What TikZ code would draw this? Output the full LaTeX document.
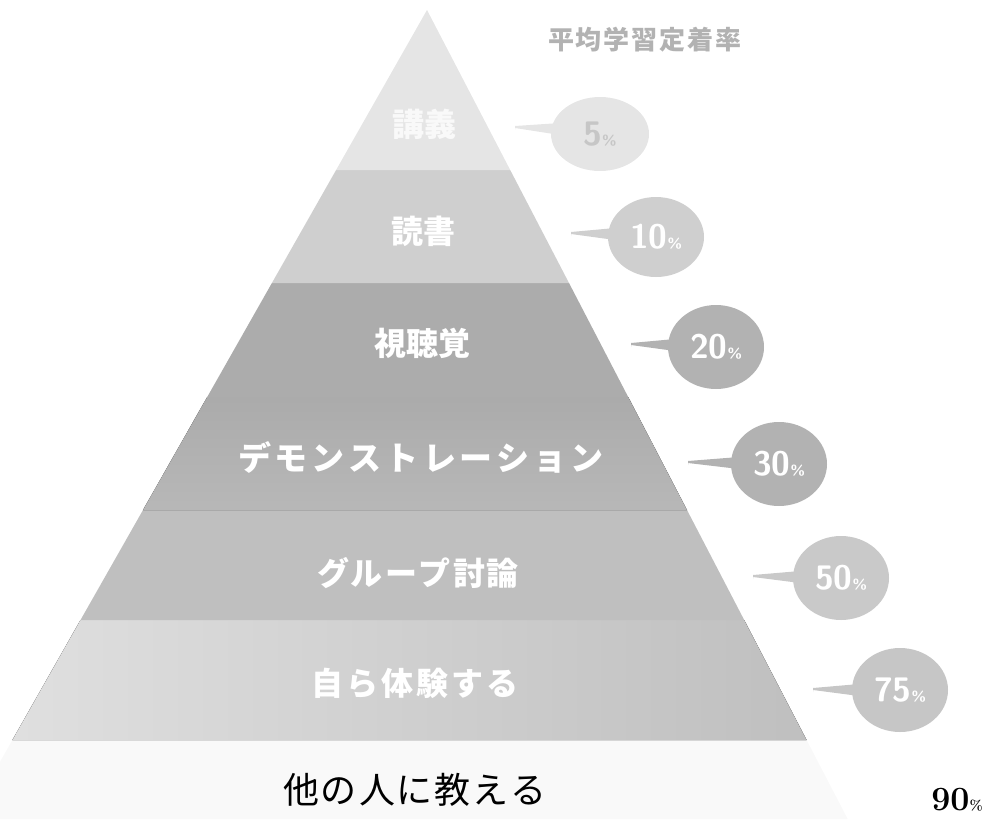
\documentclass[tikz,border=0pt]{standalone}
\usepackage{fontspec}
\newfontfamily\cjk{Noto Sans CJK JP}
\usetikzlibrary{shapes.geometric}
\tikzset{
  band/.style={draw=none},
  lvl/.style={font=\cjk\bfseries\fontsize{32}{32}\selectfont, text=white, inner sep=0pt},
  bub/.style={ellipse, draw=none, inner sep=0pt, minimum width=96pt, minimum height=84pt, text=white, font=\bfseries\sffamily\fontsize{34}{34}\selectfont},
}
\newcommand{\pc}{{\fontsize{14}{14}\selectfont\%}}
\begin{document}
\begin{tikzpicture}[x=1pt,y=-1pt]
\useasboundingbox (0,0) rectangle (1000,819);
% pyramid bands
\coordinate (apex) at (427,10);
\fill[gray!5] (12.4,740) -- (806.6,740) -- (847.7,819) -- (-32.5,819) -- cycle;
\fill[left color=gray!25, right color=gray!50] (80.5,620) -- (744.2,620) -- (806.6,740) -- (12.4,740) -- cycle;
\fill[gray!50] (143,510) -- (687,510) -- (744.2,620) -- (80.5,620) -- cycle;
\fill[top color=gray!66, bottom color=gray!56] (207.2,397) -- (628.2,397) -- (687,510) -- (143,510) -- cycle;
\fill[gray!65] (271.9,283) -- (569,283) -- (628.2,397) -- (207.2,397) -- cycle;
\fill[gray!38] (336.1,170) -- (510.2,170) -- (569,283) -- (271.9,283) -- cycle;
\fill[gray!20] (apex) -- (510.2,170) -- (336.1,170) -- cycle;
% level labels
\node[lvl, text=gray!5] (l1) at (424,124) {講義};
\node[lvl] (l2) at (423,231) {読書};
\node[lvl] (l3) at (422,343) {視聴覚};
\node[lvl, font=\cjk\bfseries\fontsize{33}{33}\selectfont] (l4) at (421,457) {デ\hspace{4pt}モ\hspace{4pt}ン\hspace{4pt}ス\hspace{4pt}ト\hspace{4pt}レ\hspace{4pt}ー\hspace{4pt}シ\hspace{4pt}ョ\hspace{4pt}ン};
\node[lvl] (l5) at (418,573) {グ\hspace{2pt}ル\hspace{2pt}ー\hspace{2pt}プ\hspace{2pt}討\hspace{2pt}論};
\node[lvl] (l6) at (415,683) {自\hspace{3pt}ら\hspace{3pt}体\hspace{3pt}験\hspace{3pt}す\hspace{3pt}る};
\node[font=\cjk\fontsize{36}{36}\selectfont, inner sep=0pt] (l7) at (415,790) {他\hspace{2pt}の\hspace{2pt}人\hspace{2pt}に\hspace{2pt}教\hspace{2pt}え\hspace{2pt}る};
% title
\node[font=\cjk\bfseries\fontsize{26}{26}\selectfont, text=gray!60, inner sep=0pt] (title) at (645,40) {平\hspace{2pt}均\hspace{2pt}学\hspace{2pt}習\hspace{2pt}定\hspace{2pt}着\hspace{2pt}率};
% bubbles
\coordinate (t1) at (515,128);
\coordinate (t2) at (571,234);
\coordinate (t3) at (631,345);
\coordinate (t4) at (688,463);
\coordinate (t5) at (753,577);
\coordinate (t6) at (813,690);
\fill[gray!20] (t1) -- ++(0,-2) -- (560,123) -- (560,135) -- (t1) -- ++(0,2) -- cycle;
\fill[gray!38] (t2) -- ++(0,-2) -- (615,228) -- (615,240) -- (t2) -- ++(0,2) -- cycle;
\fill[gray!60] (t3) -- ++(0,-2) -- (675,339) -- (675,351) -- (t3) -- ++(0,2) -- cycle;
\fill[gray!60] (t4) -- ++(0,-2) -- (739,457) -- (739,469) -- (t4) -- ++(0,2) -- cycle;
\fill[gray!42] (t5) -- ++(0,-2) -- (800,571) -- (800,583) -- (t5) -- ++(0,2) -- cycle;
\fill[gray!45] (t6) -- ++(0,-2) -- (859,684) -- (859,696) -- (t6) -- ++(0,2) -- cycle;
\node[bub, fill=gray!20, minimum height=74pt, minimum width=98pt, text=gray!45] (b1) at (600,134) {5\pc};
\node[bub, fill=gray!38, minimum height=80pt] (b2) at (656,237) {10\pc};
\node[bub, fill=gray!60] (b3) at (716,347) {20\pc};
\node[bub, fill=gray!60] (b4) at (779,464) {30\pc};
\node[bub, fill=gray!42] (b5) at (841,578) {50\pc};
\node[bub, fill=gray!45] (b6) at (900,690) {75\pc};
\node[font=\bfseries\fontsize{34}{34}\selectfont, inner sep=0pt] (p7) at (957,800) {90\pc};
\end{tikzpicture}
\end{document}
